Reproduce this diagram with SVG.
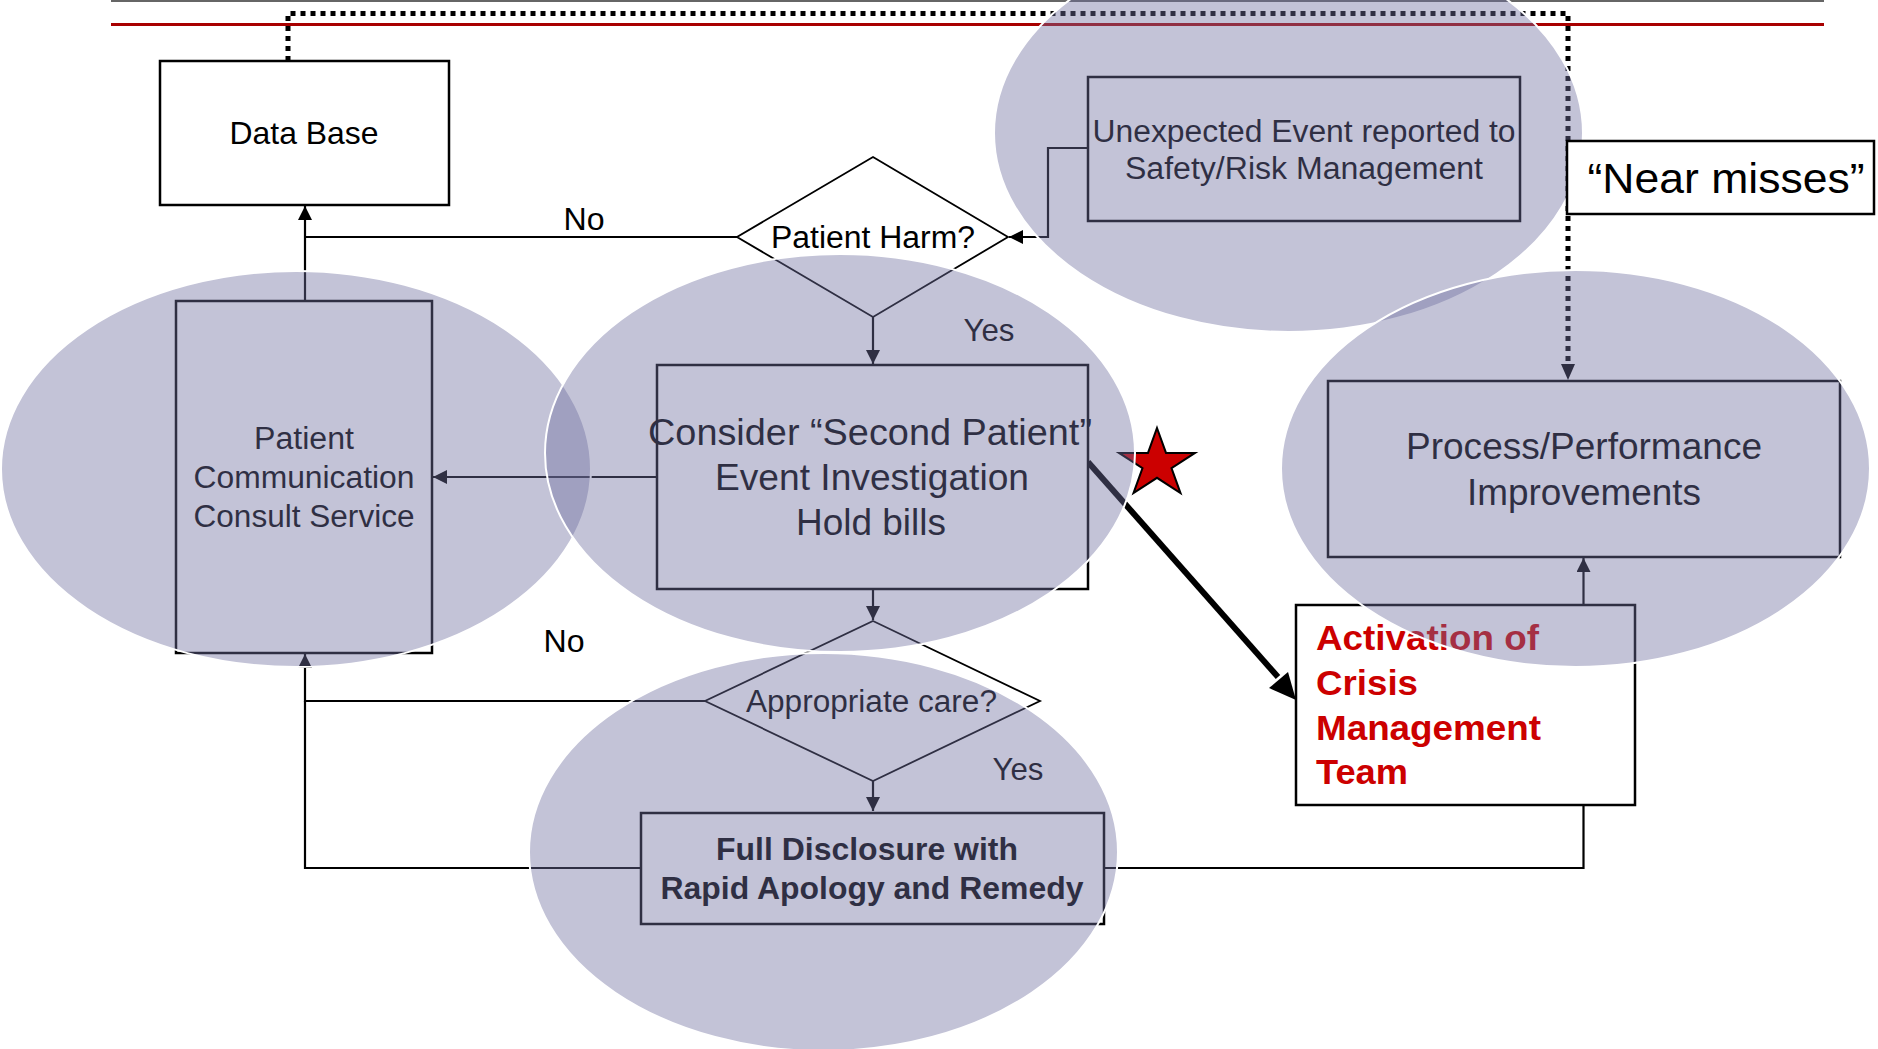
<svg xmlns="http://www.w3.org/2000/svg" width="1878" height="1049" viewBox="0 0 1878 1049">
<style>
  text { font-family: "Liberation Sans", Arial, sans-serif; fill: #000; }
  .box { fill: #fff; stroke: #000; stroke-width: 2.5; }
  .dia { fill: #fff; stroke: #000; stroke-width: 1.8; }
  .conn { fill: none; stroke: #000; stroke-width: 2.2; }
  .dot { fill: none; stroke: #000; stroke-width: 5; stroke-dasharray: 5 5; }
  .ell { fill: #6f719f; fill-opacity: 0.42; stroke: #fff; stroke-width: 2; }
  .t30 { font-size: 30.5px; }
  .t31 { font-size: 31px; }
  .t36 { font-size: 36.5px; }
  .red { font-size: 35.5px; font-weight: bold; fill: #cc0000; }
  .bold { font-size: 30.5px; font-weight: bold; }
</style>
<defs>
  <marker id="ah" viewBox="0 0 10 10" refX="10" refY="5" markerWidth="14" markerHeight="14" markerUnits="userSpaceOnUse" orient="auto">
    <path d="M0,0 L10,5 L0,10 z" fill="#000"/>
  </marker>
</defs>
<rect x="0" y="0" width="1878" height="1049" fill="#fff"/>
<line x1="111" y1="1" x2="1824" y2="1" stroke="#666" stroke-width="2"/>
<line x1="111" y1="24.5" x2="1824" y2="24.5" stroke="#a80000" stroke-width="3"/>

<g id="connectors">
  <path class="dot" d="M288,61 V13.5 H1568 V366"/>
  <path d="M1561,364 L1575,364 L1568,380 z" fill="#000"/>
  <path class="conn" d="M1088,148 H1048 V237 H1009" marker-end="url(#ah)"/>
  <path class="conn" d="M737,237 H305"/>
  <path class="conn" d="M305,301 V206" marker-end="url(#ah)"/>
  <path class="conn" d="M873,317 V364" marker-end="url(#ah)"/>
  <path class="conn" d="M657,477 H433" marker-end="url(#ah)"/>
  <path class="conn" d="M873,589 V620" marker-end="url(#ah)"/>
  <path class="conn" d="M705,701 H305 V654" marker-end="url(#ah)"/>
  <path class="conn" d="M641,868 H305 V701"/>
  <path class="conn" d="M873,781 V811" marker-end="url(#ah)"/>
  <path class="conn" d="M1583.5,805 V868 H1104"/>
  <path class="conn" d="M1583.5,605 V558" marker-end="url(#ah)"/>
  <path d="M1088,462 L1278,677" fill="none" stroke="#000" stroke-width="6"/>
  <path d="M1296,700 L1269,688 L1288,672 z" fill="#000"/>
</g>

<g id="database">
  <rect class="box" x="160" y="61" width="289" height="144"/>
  <text class="t30" x="304" y="144" text-anchor="middle" textLength="149" lengthAdjust="spacingAndGlyphs">Data Base</text>
</g>
<g id="label-no-top"><text class="t30" x="584" y="230" text-anchor="middle" textLength="41" lengthAdjust="spacingAndGlyphs">No</text></g>
<g id="patient-harm">
  <polygon class="dia" points="873,157 1008,237 873,317 737,237"/>
  <text class="t31" x="873" y="248" text-anchor="middle" textLength="204" lengthAdjust="spacingAndGlyphs">Patient Harm?</text>
</g>
<g id="unexpected-event">
  <rect class="box" x="1088" y="77" width="432" height="144"/>
  <text class="t31" x="1304" y="141.5" text-anchor="middle" textLength="423" lengthAdjust="spacingAndGlyphs">Unexpected Event reported to</text>
  <text class="t31" x="1304" y="179" text-anchor="middle" textLength="358" lengthAdjust="spacingAndGlyphs">Safety/Risk Management</text>
</g>
<g id="label-yes-top"><text class="t30" x="989" y="341" text-anchor="middle" textLength="51" lengthAdjust="spacingAndGlyphs">Yes</text></g>
<g id="patient-communication">
  <rect class="box" x="176" y="301" width="256" height="352"/>
  <text class="t31" x="304" y="449" text-anchor="middle" textLength="100" lengthAdjust="spacingAndGlyphs">Patient</text>
  <text class="t31" x="304" y="488" text-anchor="middle" textLength="221" lengthAdjust="spacingAndGlyphs">Communication</text>
  <text class="t31" x="304" y="527" text-anchor="middle" textLength="221" lengthAdjust="spacingAndGlyphs">Consult Service</text>
</g>
<g id="consider">
  <rect class="box" x="657" y="365" width="431" height="224"/>
  <text class="t36" x="870" y="445" text-anchor="middle" textLength="444" lengthAdjust="spacingAndGlyphs">Consider “Second Patient”</text>
  <text class="t36" x="872" y="490" text-anchor="middle" textLength="314" lengthAdjust="spacingAndGlyphs">Event Investigation</text>
  <text class="t36" x="871" y="535" text-anchor="middle" textLength="150" lengthAdjust="spacingAndGlyphs">Hold bills</text>
</g>
<g id="star">
  <polygon points="1157,428 1166,452.9 1195,452.9 1171.5,468.2 1180.5,493.1 1157,477.8 1133.5,493.1 1142.5,468.2 1119,452.9 1148,452.9" fill="#cc0000" stroke="#000" stroke-width="2"/>
</g>
<g id="process-improvements">
  <rect class="box" x="1328" y="381" width="512" height="176"/>
  <text class="t36" x="1584" y="459" text-anchor="middle" textLength="356" lengthAdjust="spacingAndGlyphs">Process/Performance</text>
  <text class="t36" x="1584" y="505" text-anchor="middle" textLength="234" lengthAdjust="spacingAndGlyphs">Improvements</text>
</g>
<g id="label-no-bottom"><text class="t30" x="564" y="652" text-anchor="middle" textLength="41" lengthAdjust="spacingAndGlyphs">No</text></g>
<g id="appropriate-care">
  <polygon class="dia" points="873,621 1040,701 873,781 705,701"/>
  <text class="t31" x="871.5" y="712" text-anchor="middle" textLength="251" lengthAdjust="spacingAndGlyphs">Appropriate care?</text>
</g>
<g id="label-yes-bottom"><text class="t30" x="1018" y="780" text-anchor="middle" textLength="51" lengthAdjust="spacingAndGlyphs">Yes</text></g>
<g id="activation">
  <rect class="box" x="1296" y="605" width="339" height="200"/>
  <text class="red" x="1316" y="650" textLength="223" lengthAdjust="spacingAndGlyphs">Activation of</text>
  <text class="red" x="1316" y="695" textLength="102" lengthAdjust="spacingAndGlyphs">Crisis</text>
  <text class="red" x="1316" y="740" textLength="225" lengthAdjust="spacingAndGlyphs">Management</text>
  <text class="red" x="1316" y="784" textLength="92" lengthAdjust="spacingAndGlyphs">Team</text>
</g>
<g id="full-disclosure">
  <rect class="box" x="641" y="813" width="463" height="111"/>
  <text class="bold" x="867" y="860" text-anchor="middle" textLength="302" lengthAdjust="spacingAndGlyphs">Full Disclosure with</text>
  <text class="bold" x="872" y="899" text-anchor="middle" textLength="423" lengthAdjust="spacingAndGlyphs">Rapid Apology and Remedy</text>
</g>

<g id="overlays">
  <ellipse class="ell" cx="296" cy="469" rx="295" ry="198"/>
  <ellipse class="ell" cx="840" cy="453" rx="295" ry="199"/>
  <ellipse class="ell" cx="1288.5" cy="133" rx="294.5" ry="199"/>
  <ellipse class="ell" cx="1575.5" cy="468.5" rx="294.5" ry="198.5"/>
  <ellipse class="ell" cx="823.5" cy="852" rx="294.5" ry="199"/>
</g>

<g id="near-misses">
  <rect class="box" x="1567" y="141" width="307" height="73"/>
  <text x="1726" y="193" text-anchor="middle" font-size="42" textLength="277" lengthAdjust="spacingAndGlyphs">“Near misses”</text>
</g>
</svg>
